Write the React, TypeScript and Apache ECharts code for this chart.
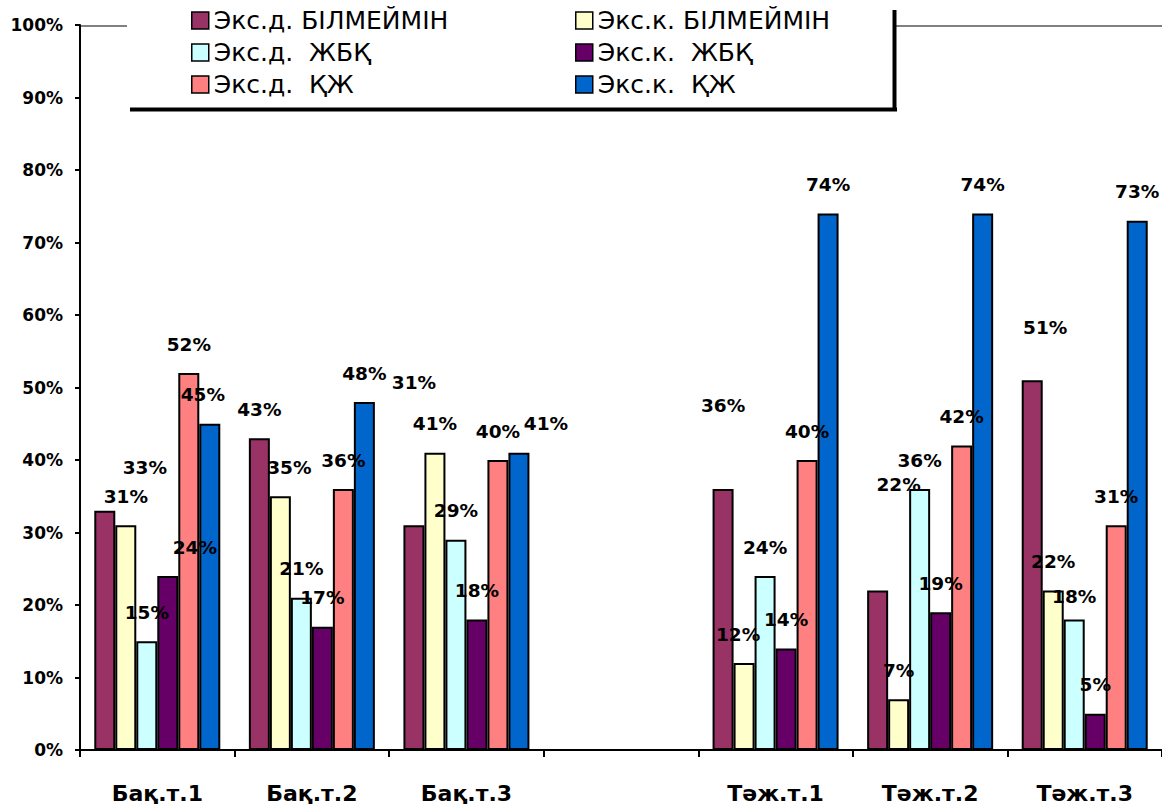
import React, { useEffect, useRef } from "react";
import * as echarts from "echarts";

const categories = ["Бақ.т.1", "Бақ.т.2", "Бақ.т.3", "", "Тәж.т.1", "Тәж.т.2", "Тәж.т.3"];

const seriesNames = [
  "Экс.д. БІЛМЕЙМІН",
  "Экс.к. БІЛМЕЙМІН",
  "Экс.д.  ЖБҚ",
  "Экс.к.  ЖБҚ",
  "Экс.д.  ҚЖ",
  "Экс.к.  ҚЖ",
];

const eksDBilmeimin = [33, 43, 31, null, 36, 22, 51];
const eksKBilmeimin = [31, 35, 41, null, 12, 7, 22];
const eksDZhbk = [15, 21, 29, null, 24, 36, 18];
const eksKZhbk = [24, 17, 18, null, 14, 19, 5];
const eksDQzh = [52, 36, 40, null, 40, 42, 31];
const eksKQzh = [45, 48, 41, null, 74, 74, 73];

const seriesValues = [eksDBilmeimin, eksKBilmeimin, eksDZhbk, eksKZhbk, eksDQzh, eksKQzh];

const yTicks = { min: 0, max: 100, interval: 10 };

// styling
const colors = ["#993366", "#FFFFCC", "#CCFFFF", "#660066", "#FF8080", "#0066CC"];
// label nudges keyed "series,category" -> [dx, dy]
const labelNudges: Record<string, [number, number]> = {
  "0,0": [40, -14],
  "3,0": [27, 0],
  "5,0": [-7, 0],
  "1,1": [9, 0],
  "0,2": [0, -114],
  "5,2": [27, 0],
  "0,4": [0, -55],
  "1,4": [-6, 0],
  "0,5": [21, -77],
  "0,6": [13, -24],
  "2,6": [0, 6],
};

const FONT = "'DejaVu Sans', sans-serif";

export default function App() {
  const ref = useRef<HTMLDivElement>(null);

  useEffect(() => {
    if (!ref.current) return;
    const chart = echarts.init(ref.current, null, { renderer: "svg" });

    const series = seriesNames.map((name, si) => ({
      name,
      type: "bar",
      barWidth: 21,
      barGap: "0%",
      itemStyle: { color: colors[si], borderColor: "#000", borderWidth: 2 },
      label: {
        show: true,
        position: "top",
        distance: 19,
        formatter: (p: any) => `${p.value}%`,
        fontFamily: FONT,
        fontWeight: "bold",
        fontSize: 18.5,
        lineHeight: 20,
        color: "#000",
      },
      data: seriesValues[si].map((v, ci) => {
        if (v === null) return "-";
        const n = labelNudges[`${si},${ci}`];
        return n ? { value: v, label: { offset: n } } : { value: v };
      }),
    }));

    const legendCommon = {
      orient: "vertical",
      top: 8,
      padding: 0,
      itemGap: 7,
      itemWidth: 17,
      itemHeight: 17,
      icon: "rect",
      z: 10,
      textStyle: { fontFamily: FONT, fontSize: 25, lineHeight: 24, color: "#000" },
      itemStyle: { borderColor: "#000", borderWidth: 1.5 },
    };

    chart.setOption({
      animation: false,
      backgroundColor: "#fff",
      textStyle: { fontFamily: FONT },
      grid: { left: 80, top: 25, width: 1085, height: 725, containLabel: false },
      legend: [
        { ...legendCommon, left: 191, data: [seriesNames[0], seriesNames[2], seriesNames[4]] },
        { ...legendCommon, left: 575, data: [seriesNames[1], seriesNames[3], seriesNames[5]] },
      ],
      xAxis: {
        type: "category",
        data: categories,
        boundaryGap: true,
        axisLine: { lineStyle: { color: "#000", width: 2 } },
        axisTick: { show: true, length: 7, lineStyle: { color: "#000", width: 2 }, alignWithLabel: false },
        axisLabel: {
          fontFamily: FONT,
          fontWeight: "bold",
          fontSize: 22,
          lineHeight: 22,
          color: "#000",
          margin: 32,
          interval: 0,
        },
      },
      yAxis: {
        type: "value",
        min: yTicks.min,
        max: yTicks.max,
        interval: yTicks.interval,
        axisLine: { show: true, lineStyle: { color: "#000", width: 2 } },
        axisTick: { show: true, length: 5, lineStyle: { color: "#000", width: 2 } },
        splitLine: { show: false },
        axisLabel: {
          formatter: "{value}%",
          fontFamily: FONT,
          fontWeight: "bold",
          fontSize: 17,
          color: "#000",
          margin: 17,
        },
      },
      graphic: [
        {
          type: "line",
          z: 1,
          shape: { x1: 81, y1: 26, x2: 1162, y2: 26 },
          style: { stroke: "#808080", lineWidth: 2 },
        },
        {
          type: "rect",
          z: 5,
          shape: { x: 127, y: -5, width: 768, height: 113 },
          style: { fill: "#fff" },
        },
        {
          type: "line",
          z: 6,
          shape: { x1: 130, y1: 109.5, x2: 897, y2: 109.5 },
          style: { stroke: "#000", lineWidth: 4 },
        },
        {
          type: "line",
          z: 6,
          shape: { x1: 894.5, y1: 10, x2: 894.5, y2: 111 },
          style: { stroke: "#000", lineWidth: 4 },
        },
      ],
      series,
    });

    return () => chart.dispose();
  }, []);

  return (
    <div
      ref={ref}
      style={{ position: "fixed", left: 0, top: 0, width: 1162, height: 807 }}
    />
  );
}
